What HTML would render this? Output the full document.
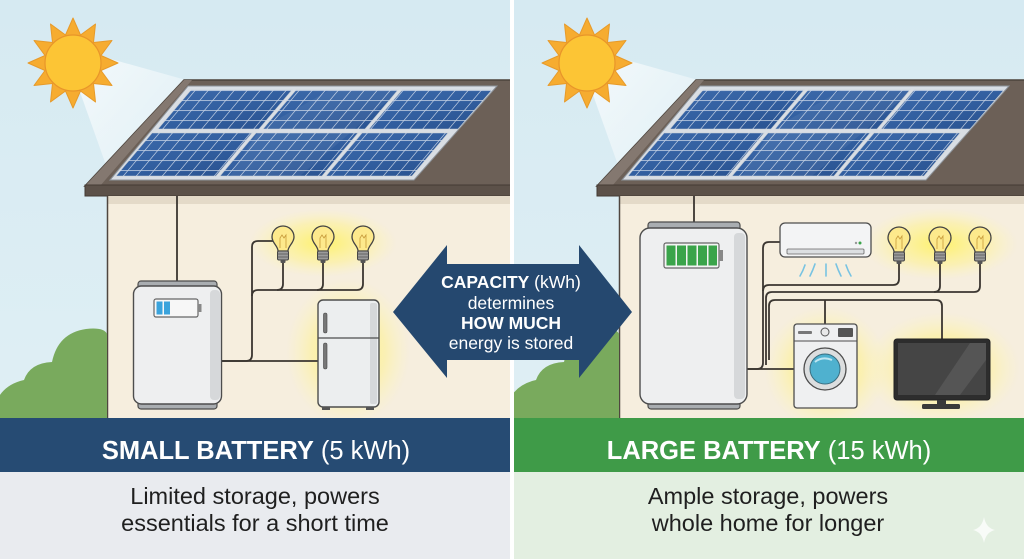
<!DOCTYPE html>
<html><head><meta charset="utf-8"><style>
html,body{margin:0;padding:0;background:#fff;}
svg{display:block;}
text{font-family:"Liberation Sans",Arial,sans-serif;}
</style></head><body>
<svg width="1024" height="559" viewBox="0 0 1024 559" xmlns="http://www.w3.org/2000/svg">
<defs>
  <linearGradient id="sky" x1="0" y1="0" x2="0" y2="1">
    <stop offset="0" stop-color="#d6eaf2"/><stop offset="1" stop-color="#dfeff4"/>
  </linearGradient>
  <linearGradient id="pv" x1="0" y1="0" x2="1" y2="1">
    <stop offset="0" stop-color="#3d6aab"/><stop offset="0.5" stop-color="#325fa0"/><stop offset="1" stop-color="#28508d"/>
  </linearGradient>
  <pattern id="grid" width="13" height="10" patternUnits="userSpaceOnUse" patternTransform="translate(0,90) skewX(-40)">
    <path d="M0 0.5H13M0.5 0V10" stroke="rgba(255,255,255,0.7)" stroke-width="0.9" fill="none"/>
  </pattern>
  <radialGradient id="glow"><stop offset="0" stop-color="#fff25e" stop-opacity="0.9"/><stop offset="0.6" stop-color="#fff38a" stop-opacity="0.5"/><stop offset="1" stop-color="#fff7b0" stop-opacity="0"/></radialGradient>
  <linearGradient id="beam" x1="0" y1="0" x2="1" y2="1">
    <stop offset="0" stop-color="#ffffff" stop-opacity="0.7"/><stop offset="1" stop-color="#ffffff" stop-opacity="0.15"/>
  </linearGradient>
  <clipPath id="clipL"><rect x="0" y="0" width="510" height="418"/></clipPath>
  <clipPath id="clipR"><rect x="514" y="0" width="510" height="418"/></clipPath>

  <g id="sun">
    <polygon points="0,-45 7.5,-28 22.5,-39 20.5,-20.5 39,-22.5 28,-7.5 45,0 28,7.5 39,22.5 20.5,20.5 22.5,39 7.5,28 0,45 -7.5,28 -22.5,39 -20.5,20.5 -39,22.5 -28,7.5 -45,0 -28,-7.5 -39,-22.5 -20.5,-20.5 -22.5,-39 -7.5,-28" fill="#f6ac30" stroke="#e79a2a" stroke-width="1" stroke-linejoin="round"/>
    <circle r="28" fill="#fcc535" stroke="#e8952a" stroke-width="1.2"/>
  </g>

  <g id="house">
    <polygon points="100,56 186,80 112,182 80,92" fill="url(#beam)"/>
    <polygon points="184,80 540,80 540,186 85,186" fill="#6c6057" stroke="#4b423b" stroke-width="1.5"/>
    <polygon points="184,80 192,80 100,186 85,186" fill="#847870"/>
    <rect x="85" y="185" width="455" height="11" fill="#5c5149" stroke="#433a34" stroke-width="1"/>
    <rect x="107" y="196" width="433" height="222" fill="#f6eede"/>
    <rect x="107" y="196" width="433" height="8" fill="#e4dac8"/>
    <line x1="107.5" y1="196" x2="107.5" y2="418" stroke="#4f463f" stroke-width="1.5"/>
    <polygon points="188,86 497,86 414,180 110,180" fill="#d9dee4" stroke="#8d939a" stroke-width="1"/>
    <g stroke="#c5ccd4" stroke-width="0.6">
      <polygon points="191,90 292,90 259,129 158,129" fill="url(#pv)"/>
      <polygon points="296,90 398,90 365,129 263,129" fill="url(#pv)"/>
      <polygon points="402,90 492,90 458,129 369,129" fill="url(#pv)"/>
      <polygon points="152,133 252,133 216,176 116,176" fill="url(#pv)"/>
      <polygon points="256,133 358,133 322,176 220,176" fill="url(#pv)"/>
      <polygon points="362,133 448,133 412,176 326,176" fill="url(#pv)"/>
    </g>
    <g fill="url(#grid)">
      <polygon points="191,90 292,90 259,129 158,129"/>
      <polygon points="296,90 398,90 365,129 263,129"/>
      <polygon points="402,90 492,90 458,129 369,129"/>
      <polygon points="152,133 252,133 216,176 116,176"/>
      <polygon points="256,133 358,133 322,176 220,176"/>
      <polygon points="362,133 448,133 412,176 326,176"/>
    </g>
    <polygon points="260,129 330,90 400,90 300,176 230,176" fill="#ffffff" opacity="0.06"/>
    <path d="M-2,418 V398 Q6,384 24,380 Q30,363 52,362 Q58,333 86,329 Q104,327 107,334 V418 Z" fill="#79aa5d"/>
  </g>

  <g id="bulb">
    <path d="M-5,12 C-5,7 -11,4 -11,-2 A11,11 0 1 1 11,-2 C11,4 5,7 5,12 Z" fill="#fde98c" stroke="#444" stroke-width="1.3"/>
    <path d="M-3,9 L-3,-1 L-1,-4 L1,-1 L3,-4 L3,9" fill="none" stroke="#c79a3a" stroke-width="0.8"/>
    <rect x="-5.5" y="12" width="11" height="9" rx="1.5" fill="#9b9b9b" stroke="#444" stroke-width="1"/>
    <path d="M-5.5,15 H5.5 M-5.5,18 H5.5" stroke="#555" stroke-width="0.8"/>
    <rect x="-2.5" y="21" width="5" height="3" rx="1" fill="#555"/>
  </g>
</defs>

<rect x="0" y="0" width="1024" height="559" fill="#ffffff"/>
<rect x="0" y="0" width="510" height="418" fill="url(#sky)"/>
<rect x="514" y="0" width="510" height="418" fill="url(#sky)"/>

<!-- LEFT PANEL -->
<g clip-path="url(#clipL)">
  <use href="#house"/>
  <use href="#sun" x="73" y="63"/>
  <ellipse cx="323" cy="243" rx="74" ry="34" fill="url(#glow)"/>
  <ellipse cx="348" cy="352" rx="62" ry="74" fill="url(#glow)"/>
  <g fill="none" stroke="#3b3631" stroke-width="1.8">
    <path d="M177 196 V282"/>
    <path d="M221 361 H318"/>
    <path d="M221 361 H246 Q252 361 252 355 V247 Q252 241 258 241 H273"/>
    <path d="M252 296 Q252 290 258 290 H357 Q363 290 363 284 V262"/>
    <path d="M283 262 V284 Q283 290 277 290"/>
    <path d="M323 262 V284 Q323 290 317 290"/>
  </g>
  <use href="#bulb" x="283" y="239"/>
  <use href="#bulb" x="323" y="239"/>
  <use href="#bulb" x="363" y="239"/>
  <rect x="138" y="281" width="79" height="9" rx="3" fill="#a9adb1" stroke="#4d4d4d" stroke-width="1.2"/>
  <rect x="138" y="400" width="79" height="9" rx="3" fill="#a9adb1" stroke="#4d4d4d" stroke-width="1.2"/>
  <rect x="133.5" y="286" width="88" height="118" rx="8" fill="#eeeff0" stroke="#4d4d4d" stroke-width="1.4"/>
  <rect x="210" y="290" width="10" height="110" rx="4" fill="#d6d8da"/>
  <rect x="154" y="299" width="44" height="18" rx="2" fill="#f7f7f7" stroke="#666" stroke-width="1.2"/>
  <rect x="198" y="304" width="3.5" height="8" fill="#888"/>
  <rect x="156.5" y="301.5" width="6" height="13" fill="#3aa3dc"/>
  <rect x="164" y="301.5" width="6" height="13" fill="#3aa3dc"/>
  <rect x="318" y="300" width="61" height="107" rx="5" fill="#eceeef" stroke="#4d4d4d" stroke-width="1.4"/>
  <rect x="370" y="303" width="7" height="101" rx="2" fill="#d6d8da"/>
  <line x1="318" y1="338" x2="379" y2="338" stroke="#4d4d4d" stroke-width="1.3"/>
  <rect x="323.5" y="313" width="3.5" height="20" rx="1.7" fill="#777" stroke="#444" stroke-width="0.6"/>
  <rect x="323.5" y="343" width="3.5" height="26" rx="1.7" fill="#777" stroke="#444" stroke-width="0.6"/>
  <rect x="322" y="407" width="8" height="3" fill="#555"/>
  <rect x="366" y="407" width="8" height="3" fill="#555"/>
</g>

<!-- RIGHT PANEL -->
<g clip-path="url(#clipR)">
  <use href="#house" x="512"/>
  <use href="#sun" x="587" y="63"/>
  <ellipse cx="940" cy="244" rx="78" ry="36" fill="url(#glow)"/>
  <ellipse cx="826" cy="368" rx="62" ry="62" fill="url(#glow)"/>
  <ellipse cx="942" cy="368" rx="78" ry="56" fill="url(#glow)"/>
  <g fill="none" stroke="#3b3631" stroke-width="1.8">
    <path d="M694 196 V223"/>
    <path d="M747 369 H794"/>
    <path d="M747 369 H757 Q763 369 763 363 V248 Q763 242 769 242 H780"/>
    <path d="M763 291 Q763 285 769 285 H893 Q899 285 899 279 V262"/>
    <path d="M766 365 V298 Q766 292 772 292 H974 Q980 292 980 286 V262"/>
    <path d="M940 262 V286 Q940 292 934 292"/>
    <path d="M769 360 V306 Q769 300 775 300 H936 Q942 300 942 306 V339"/>
    <path d="M825 300 V324"/>
  </g>
  <use href="#bulb" x="899" y="240"/>
  <use href="#bulb" x="940" y="240"/>
  <use href="#bulb" x="980" y="240"/>
  <rect x="648" y="222" width="92" height="10" rx="3" fill="#a9adb1" stroke="#4d4d4d" stroke-width="1.2"/>
  <rect x="648" y="400" width="92" height="9" rx="3" fill="#a9adb1" stroke="#4d4d4d" stroke-width="1.2"/>
  <rect x="640" y="228" width="107" height="176" rx="10" fill="#eeeff0" stroke="#4d4d4d" stroke-width="1.4"/>
  <rect x="734" y="233" width="11" height="166" rx="4" fill="#d6d8da"/>
  <rect x="664" y="243" width="55" height="25" rx="2" fill="#f4f4f4" stroke="#666" stroke-width="1.2"/>
  <rect x="719" y="250" width="4" height="11" fill="#888"/>
  <g fill="#3aa44a">
    <rect x="666.5" y="245.5" width="9" height="20"/>
    <rect x="677" y="245.5" width="9" height="20"/>
    <rect x="687.5" y="245.5" width="9" height="20"/>
    <rect x="698" y="245.5" width="9" height="20"/>
    <rect x="708.5" y="245.5" width="8.5" height="20"/>
  </g>
  <rect x="780" y="223" width="91" height="34" rx="5" fill="#f3f4f5" stroke="#4d4d4d" stroke-width="1.3"/>
  <rect x="787" y="249" width="77" height="5" rx="1" fill="#dcdfe2" stroke="#666" stroke-width="0.8"/>
  <circle cx="860" cy="243" r="1.5" fill="#3aa44a"/><circle cx="856" cy="243" r="1.2" fill="#999"/>
  <g fill="none" stroke="#78c3e2" stroke-width="1.6" stroke-linecap="round">
    <path d="M805 265 Q803 271 800 276"/>
    <path d="M815 264 Q813 270 810 276"/>
    <path d="M826 264 V276"/>
    <path d="M836 264 Q838 270 841 276"/>
    <path d="M846 265 Q848 271 851 276"/>
  </g>
  <rect x="794" y="324" width="63" height="84" rx="3" fill="#eff0f1" stroke="#4d4d4d" stroke-width="1.3"/>
  <line x1="794" y1="341" x2="857" y2="341" stroke="#4d4d4d" stroke-width="1"/>
  <rect x="798" y="331" width="14" height="3" rx="1" fill="#777"/>
  <circle cx="825" cy="332" r="4" fill="#e8e8e8" stroke="#555" stroke-width="1"/>
  <rect x="838" y="328" width="15" height="9" rx="1" fill="#555"/>
  <circle cx="825" cy="369" r="21" fill="#dcdedf" stroke="#4d4d4d" stroke-width="1.3"/>
  <circle cx="825" cy="369" r="15" fill="#4fb1cf" stroke="#3a6e80" stroke-width="1"/>
  <path d="M815 362 Q822 356 832 360" fill="none" stroke="#bfe6f2" stroke-width="2"/>
  <rect x="894" y="339" width="96" height="61" rx="3" fill="#2d2d2d" stroke="#222" stroke-width="1"/>
  <rect x="898" y="343" width="88" height="52" fill="#454545"/>
  <polygon points="935,395 970,343 986,343 986,360 960,395" fill="#555"/>
  <rect x="937" y="400" width="9" height="5" fill="#3a3a3a"/>
  <rect x="922" y="404" width="38" height="5" rx="1.5" fill="#3a3a3a"/>
</g>

<rect x="510" y="0" width="4" height="559" fill="#ffffff"/>

<!-- center arrow -->
<polygon points="393,312 447,245 447,264 579,264 579,245 632,312 579,378 579,360 447,360 447,378" fill="#25486f"/>
<g fill="#ffffff" text-anchor="middle" font-size="17.5">
  <text x="511" y="288"><tspan font-weight="bold">CAPACITY</tspan> (kWh)</text>
  <text x="511" y="309">determines</text>
  <text x="511" y="329" font-weight="bold">HOW MUCH</text>
  <text x="511" y="349">energy is stored</text>
</g>

<!-- bottom banners -->
<rect x="0" y="418" width="510" height="54" fill="#264b73"/>
<rect x="514" y="418" width="510" height="54" fill="#3f9b48"/>
<rect x="0" y="472" width="510" height="87" fill="#e9ebef"/>
<rect x="514" y="472" width="510" height="87" fill="#e3efe1"/>
<g fill="#ffffff" text-anchor="middle" font-size="25.5">
  <text x="256" y="459"><tspan font-weight="bold">SMALL BATTERY</tspan> (5 kWh)</text>
  <text x="769" y="459"><tspan font-weight="bold">LARGE BATTERY</tspan> (15 kWh)</text>
</g>
<g fill="#1f1f1f" text-anchor="middle" font-size="23.5">
  <text x="255" y="504">Limited storage, powers</text>
  <text x="255" y="531">essentials for a short time</text>
  <text x="768" y="504">Ample storage, powers</text>
  <text x="768" y="531">whole home for longer</text>
</g>
<path d="M984 517 Q986 528 995 530 Q986 532 984 543 Q982 532 973 530 Q982 528 984 517 Z" fill="#ffffff" opacity="0.75"/>
</svg>
</body></html>
